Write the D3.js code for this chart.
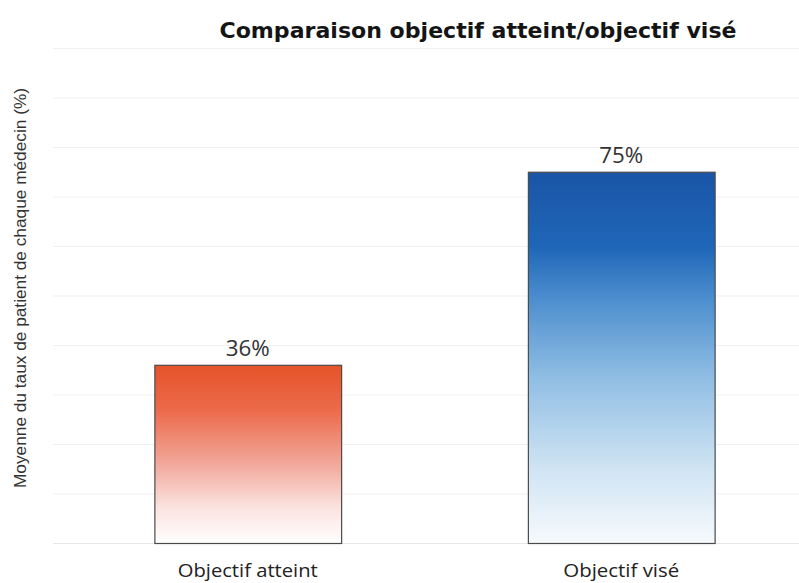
<!DOCTYPE html>
<html><head><meta charset="utf-8">
<script src="https://cdn.jsdelivr.net/npm/d3@7"></script>
<style>body{margin:0;background:#fff}</style>
</head><body>
<svg id="c" width="799" height="583"></svg>
<script>
const categories = ["Objectif atteint", "Objectif visé"];
const values = [36, 75];
const valueLabels = ["36%", "75%"];
const gridTicks = [0,10,20,30,40,50,60,70,80,90,100];
const title = "Comparaison objectif atteint/objectif visé";
const yLabel = "Moyenne du taux de patient de chaque médecin (%)";

const svg = d3.select("#c");
const y = d3.scaleLinear().domain([0,100]).range([543,48]);
const x = d3.scaleBand().domain(categories).range([61,808]).paddingInner(0.5).paddingOuter(0.25);

const defs = svg.append("defs");
const gradStops = [
  [["0%","#e6532a"],["25%","#ec6a4a"],["55%","#f2a79a"],["80%","#fbe3e0"],["100%","#ffffff"]],
  [["0%","#1a55a6"],["20%","#1f66b8"],["35%","#4f90cf"],["55%","#8fbde3"],["80%","#d0e4f3"],["100%","#f6fafd"]]
];
gradStops.forEach((st,i)=>{
  const g = defs.append("linearGradient").attr("id","g"+i).attr("x1",0).attr("x2",0).attr("y1",0).attr("y2",1);
  st.forEach(s=>g.append("stop").attr("offset",s[0]).attr("stop-color",s[1]));
});

svg.append("g").selectAll("line").data(gridTicks).join("line")
  .attr("x1",53).attr("x2",799).attr("y1",d=>y(d)+0.5).attr("y2",d=>y(d)+0.5)
  .attr("stroke",d=>d===0?"#e6e6e6":"#f1f1f1").attr("stroke-width",1);

svg.append("g").selectAll("rect").data(values).join("rect")
  .attr("x",(d,i)=>x(categories[i])+0.5).attr("y",d=>y(d)+0.5)
  .attr("width",x.bandwidth()).attr("height",d=>y(0)-y(d))
  .attr("fill",(d,i)=>`url(#g${i})`).attr("stroke","#4a4a4a").attr("stroke-width",1.2);

svg.append("g").selectAll("text").data(values).join("text")
  .attr("x",(d,i)=>x(categories[i])+x.bandwidth()/2).attr("y",d=>y(d)-9)
  .attr("text-anchor","middle").attr("font-family","Open Sans, sans-serif").attr("font-size",22)
  .attr("textLength",44).attr("lengthAdjust","spacingAndGlyphs")
  .attr("fill","#333").text((d,i)=>valueLabels[i]);

svg.append("g").selectAll("text").data(categories).join("text")
  .attr("x",d=>x(d)+x.bandwidth()/2).attr("y",577)
  .attr("text-anchor","middle").attr("font-family","Open Sans, sans-serif").attr("font-size",19)
  .attr("textLength",(d,i)=>i===0?140:116).attr("lengthAdjust","spacingAndGlyphs")
  .attr("fill","#222").text(d=>d);

svg.append("text").attr("x",478).attr("y",38).attr("text-anchor","middle")
  .attr("font-family","DejaVu Sans, sans-serif").attr("font-weight","bold").attr("font-size",22)
  .attr("textLength",517).attr("lengthAdjust","spacingAndGlyphs")
  .attr("fill","#141414").text(title);

svg.append("text").attr("transform","translate(26,288) rotate(-90)").attr("text-anchor","middle")
  .attr("font-family","Liberation Sans Narrow, Liberation Sans, sans-serif").attr("font-size",16)
  .attr("textLength",400).attr("lengthAdjust","spacingAndGlyphs")
  .attr("fill","#333").text(yLabel);
</script>
</body></html>
